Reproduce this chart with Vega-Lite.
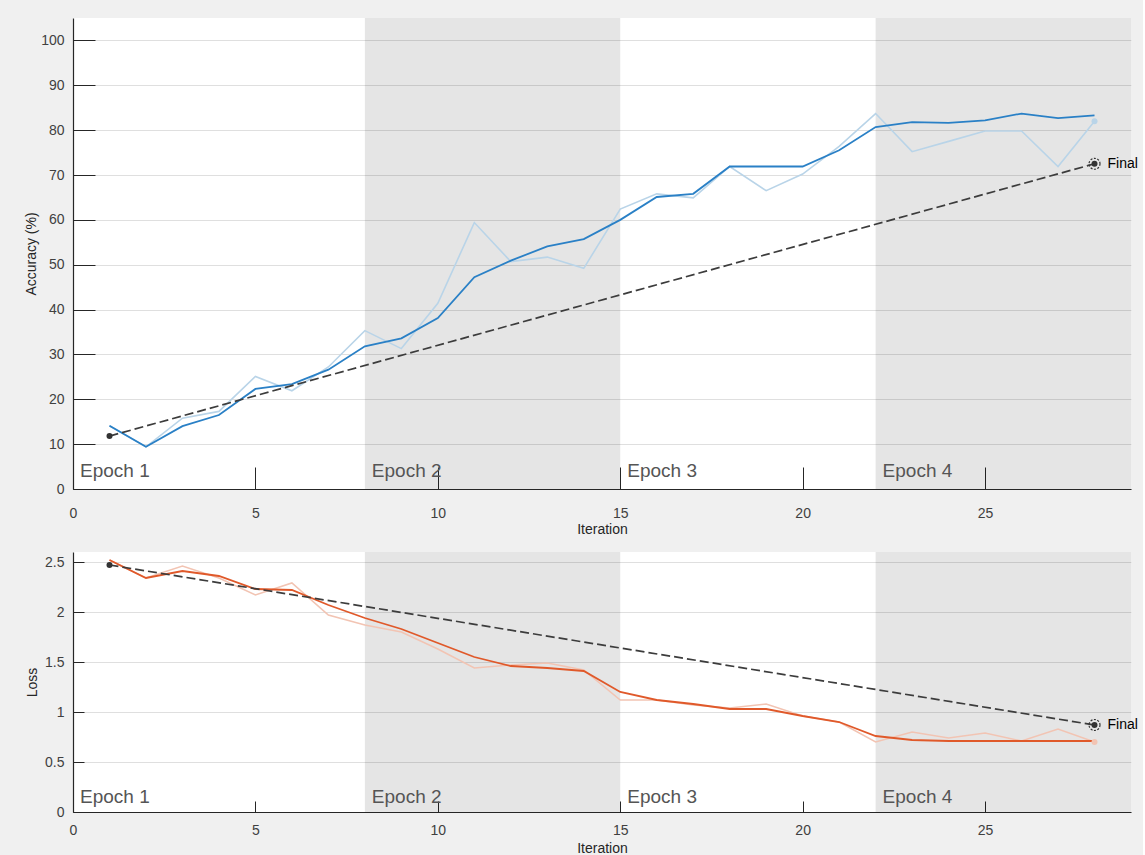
{
  "$schema": "https://vega.github.io/schema/vega-lite/v6.json",
  "background": "#f0f0f0",
  "padding": {"left": 24, "top": 18, "right": 5, "bottom": 0},
  "spacing": 16,
  "datasets": {
    "epochs": [
      {"epoch": "Epoch 1", "start": 0, "end": 8, "shaded": false},
      {"epoch": "Epoch 2", "start": 8, "end": 15, "shaded": true},
      {"epoch": "Epoch 3", "start": 15, "end": 22, "shaded": false},
      {"epoch": "Epoch 4", "start": 22, "end": 29, "shaded": true}
    ],
    "acc": [
      {"iter": 1, "s": 14.1, "r": 14.1}, {"iter": 2, "s": 9.4, "r": 9.4}, {"iter": 3, "s": 14.0, "r": 15.8},
      {"iter": 4, "s": 16.5, "r": 17.3}, {"iter": 5, "s": 22.3, "r": 25.1}, {"iter": 6, "s": 23.4, "r": 21.9},
      {"iter": 7, "s": 26.6, "r": 27.2}, {"iter": 8, "s": 31.8, "r": 35.3}, {"iter": 9, "s": 33.6, "r": 31.3},
      {"iter": 10, "s": 38.1, "r": 41.4}, {"iter": 11, "s": 47.2, "r": 59.4}, {"iter": 12, "s": 50.9, "r": 50.7},
      {"iter": 13, "s": 54.1, "r": 51.7}, {"iter": 14, "s": 55.7, "r": 49.2}, {"iter": 15, "s": 60.0, "r": 62.4},
      {"iter": 16, "s": 65.1, "r": 65.8}, {"iter": 17, "s": 65.8, "r": 64.9}, {"iter": 18, "s": 71.9, "r": 71.9},
      {"iter": 19, "s": 71.9, "r": 66.5}, {"iter": 20, "s": 71.9, "r": 70.2}, {"iter": 21, "s": 75.5, "r": 76.4},
      {"iter": 22, "s": 80.7, "r": 83.7}, {"iter": 23, "s": 81.8, "r": 75.2}, {"iter": 24, "s": 81.6, "r": 77.5},
      {"iter": 25, "s": 82.2, "r": 79.8}, {"iter": 26, "s": 83.7, "r": 79.8}, {"iter": 27, "s": 82.7, "r": 71.9},
      {"iter": 28, "s": 83.3, "r": 82.0}
    ],
    "accVal": [
      {"iter": 1, "v": 11.8, "final": false},
      {"iter": 28, "v": 72.5, "final": true}
    ],
    "loss": [
      {"iter": 1, "s": 2.52, "r": 2.52}, {"iter": 2, "s": 2.34, "r": 2.34}, {"iter": 3, "s": 2.41, "r": 2.46},
      {"iter": 4, "s": 2.36, "r": 2.34}, {"iter": 5, "s": 2.23, "r": 2.17}, {"iter": 6, "s": 2.22, "r": 2.29},
      {"iter": 7, "s": 2.07, "r": 1.97}, {"iter": 8, "s": 1.94, "r": 1.87}, {"iter": 9, "s": 1.83, "r": 1.80},
      {"iter": 10, "s": 1.69, "r": 1.63}, {"iter": 11, "s": 1.55, "r": 1.44}, {"iter": 12, "s": 1.46, "r": 1.47},
      {"iter": 13, "s": 1.44, "r": 1.49}, {"iter": 14, "s": 1.41, "r": 1.42}, {"iter": 15, "s": 1.20, "r": 1.12},
      {"iter": 16, "s": 1.12, "r": 1.12}, {"iter": 17, "s": 1.08, "r": 1.07}, {"iter": 18, "s": 1.03, "r": 1.04},
      {"iter": 19, "s": 1.03, "r": 1.08}, {"iter": 20, "s": 0.96, "r": 0.96}, {"iter": 21, "s": 0.90, "r": 0.90},
      {"iter": 22, "s": 0.76, "r": 0.70}, {"iter": 23, "s": 0.72, "r": 0.80}, {"iter": 24, "s": 0.71, "r": 0.74},
      {"iter": 25, "s": 0.71, "r": 0.79}, {"iter": 26, "s": 0.71, "r": 0.71}, {"iter": 27, "s": 0.71, "r": 0.83},
      {"iter": 28, "s": 0.71, "r": 0.70}
    ],
    "lossVal": [
      {"iter": 1, "v": 2.47, "final": false},
      {"iter": 28, "v": 0.87, "final": true}
    ]
  },
  "vconcat": [
    {
      "width": 1058,
      "height": 471,
      "layer": [
        {
          "data": {"name": "epochs"},
          "transform": [{"filter": "datum.shaded"}],
          "mark": {"type": "rect", "color": "#000000", "opacity": 0.1},
          "encoding": {
            "x": {"field": "start", "type": "quantitative", "scale": {"domain": [0, 29], "nice": false},
              "axis": {"values": [0, 5, 10, 15, 20, 25], "tickSize": -22, "labelPadding": 39, "labelFlush": false, "title": "Iteration", "titlePadding": 2, "grid": false}},
            "x2": {"field": "end"}
          }
        },
        {
          "data": {"name": "acc"},
          "mark": {"type": "line", "color": "#b9d4e8", "strokeWidth": 1.6},
          "encoding": {
            "x": {"field": "iter", "type": "quantitative"},
            "y": {"field": "r", "type": "quantitative", "scale": {"domain": [0, 105], "nice": false},
              "axis": {"values": [0, 10, 20, 30, 40, 50, 60, 70, 80, 90, 100], "tickSize": -22, "labelPadding": 31, "title": "Accuracy (%)", "titlePadding": 2, "grid": true}}
          }
        },
        {
          "data": {"name": "acc"},
          "mark": {"type": "line", "color": "#2a80c6", "strokeWidth": 1.8},
          "encoding": {
            "x": {"field": "iter", "type": "quantitative"},
            "y": {"field": "s", "type": "quantitative"}
          }
        },
        {
          "data": {"name": "acc"},
          "transform": [{"filter": "datum.iter == 28"}],
          "mark": {"type": "point", "filled": true, "color": "#b9d4e8", "size": 36, "opacity": 1},
          "encoding": {
            "x": {"field": "iter", "type": "quantitative"},
            "y": {"field": "r", "type": "quantitative"}
          }
        },
        {
          "data": {"name": "accVal"},
          "mark": {"type": "line", "color": "#3c3c3c", "strokeWidth": 1.7, "strokeDash": [9, 4]},
          "encoding": {
            "x": {"field": "iter", "type": "quantitative"},
            "y": {"field": "v", "type": "quantitative"}
          }
        },
        {
          "data": {"name": "accVal"},
          "mark": {"type": "point", "filled": true, "color": "#333333", "size": 36, "opacity": 1},
          "encoding": {
            "x": {"field": "iter", "type": "quantitative"},
            "y": {"field": "v", "type": "quantitative"}
          }
        },
        {
          "data": {"name": "accVal"},
          "transform": [{"filter": "datum.final"}],
          "mark": {"type": "point", "filled": false, "color": "#333333", "size": 120, "strokeWidth": 1.2, "strokeDash": [2, 1.5], "opacity": 1},
          "encoding": {
            "x": {"field": "iter", "type": "quantitative"},
            "y": {"field": "v", "type": "quantitative"}
          }
        },
        {
          "data": {"name": "accVal"},
          "transform": [{"filter": "datum.final"}],
          "mark": {"type": "text", "text": "Final", "align": "left", "baseline": "middle", "dx": 13, "fontSize": 14, "color": "#000000"},
          "encoding": {
            "x": {"field": "iter", "type": "quantitative"},
            "y": {"field": "v", "type": "quantitative"}
          }
        },
        {
          "data": {"name": "epochs"},
          "mark": {"type": "text", "align": "left", "baseline": "alphabetic", "dx": 7, "dy": -12, "fontSize": 19, "color": "#555555"},
          "encoding": {
            "x": {"field": "start", "type": "quantitative"},
            "y": {"datum": 0, "type": "quantitative"},
            "text": {"field": "epoch"}
          }
        }
      ]
    },
    {
      "width": 1058,
      "height": 260,
      "layer": [
        {
          "data": {"name": "epochs"},
          "transform": [{"filter": "datum.shaded"}],
          "mark": {"type": "rect", "color": "#000000", "opacity": 0.1},
          "encoding": {
            "x": {"field": "start", "type": "quantitative", "scale": {"domain": [0, 29], "nice": false},
              "axis": {"values": [0, 5, 10, 15, 20, 25], "tickSize": -11, "labelPadding": 22, "labelFlush": false, "title": "Iteration", "titlePadding": 4, "grid": false}},
            "x2": {"field": "end"}
          }
        },
        {
          "data": {"name": "loss"},
          "mark": {"type": "line", "color": "#f2c4b3", "strokeWidth": 1.6},
          "encoding": {
            "x": {"field": "iter", "type": "quantitative"},
            "y": {"field": "r", "type": "quantitative", "scale": {"domain": [0, 2.6], "nice": false},
              "axis": {"values": [0, 0.5, 1, 1.5, 2, 2.5], "format": "~g", "tickSize": -11, "labelPadding": 20, "title": "Loss", "titlePadding": 5, "grid": true}}
          }
        },
        {
          "data": {"name": "loss"},
          "mark": {"type": "line", "color": "#e0592a", "strokeWidth": 1.8},
          "encoding": {
            "x": {"field": "iter", "type": "quantitative"},
            "y": {"field": "s", "type": "quantitative"}
          }
        },
        {
          "data": {"name": "loss"},
          "transform": [{"filter": "datum.iter == 28"}],
          "mark": {"type": "point", "filled": true, "color": "#f2c4b3", "size": 36, "opacity": 1},
          "encoding": {
            "x": {"field": "iter", "type": "quantitative"},
            "y": {"field": "r", "type": "quantitative"}
          }
        },
        {
          "data": {"name": "lossVal"},
          "mark": {"type": "line", "color": "#3c3c3c", "strokeWidth": 1.7, "strokeDash": [9, 4]},
          "encoding": {
            "x": {"field": "iter", "type": "quantitative"},
            "y": {"field": "v", "type": "quantitative"}
          }
        },
        {
          "data": {"name": "lossVal"},
          "mark": {"type": "point", "filled": true, "color": "#333333", "size": 36, "opacity": 1},
          "encoding": {
            "x": {"field": "iter", "type": "quantitative"},
            "y": {"field": "v", "type": "quantitative"}
          }
        },
        {
          "data": {"name": "lossVal"},
          "transform": [{"filter": "datum.final"}],
          "mark": {"type": "point", "filled": false, "color": "#333333", "size": 120, "strokeWidth": 1.2, "strokeDash": [2, 1.5], "opacity": 1},
          "encoding": {
            "x": {"field": "iter", "type": "quantitative"},
            "y": {"field": "v", "type": "quantitative"}
          }
        },
        {
          "data": {"name": "lossVal"},
          "transform": [{"filter": "datum.final"}],
          "mark": {"type": "text", "text": "Final", "align": "left", "baseline": "middle", "dx": 13, "fontSize": 14, "color": "#000000"},
          "encoding": {
            "x": {"field": "iter", "type": "quantitative"},
            "y": {"field": "v", "type": "quantitative"}
          }
        },
        {
          "data": {"name": "epochs"},
          "mark": {"type": "text", "align": "left", "baseline": "alphabetic", "dx": 7, "dy": -9, "fontSize": 19, "color": "#555555"},
          "encoding": {
            "x": {"field": "start", "type": "quantitative"},
            "y": {"datum": 0, "type": "quantitative"},
            "text": {"field": "epoch"}
          }
        }
      ]
    }
  ],
  "config": {
    "font": "Liberation Sans",
    "view": {"fill": "white", "stroke": null},
    "axis": {
      "labelFont": "Liberation Sans", "labelFontSize": 14, "labelColor": "#404040",
      "titleFont": "Liberation Sans", "titleFontSize": 14, "titleFontWeight": "normal", "titleColor": "#262626",
      "domainColor": "#262626", "tickColor": "#262626", "gridColor": "#dfdfdf", "domainWidth": 1.2, "tickWidth": 1
    }
  }
}
